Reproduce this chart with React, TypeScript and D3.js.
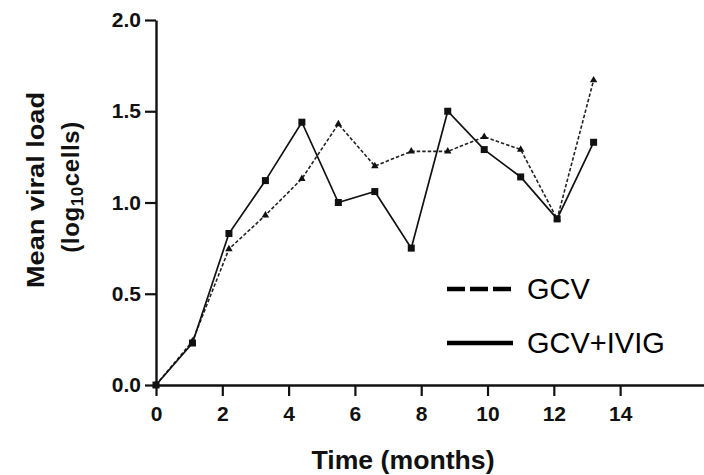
import React, { useEffect, useRef } from "react";
import * as d3 from "d3";

// Sampling times (months) and mean viral load (log10 cells) per treatment group
const times = [0, 1.1, 2.2, 3.3, 4.4, 5.5, 6.6, 7.7, 8.8, 9.9, 11, 12.1, 13.2];
const gcv = [0, 0.24, 0.745, 0.93, 1.13, 1.43, 1.2, 1.28, 1.28, 1.36, 1.29, 0.91, 1.67];
const gcvIvig = [0, 0.23, 0.83, 1.12, 1.44, 1.0, 1.06, 0.75, 1.5, 1.29, 1.14, 0.91, 1.33];

const xTicks = [0, 2, 4, 6, 8, 10, 12, 14];
const yTicks = [0, 0.5, 1.0, 1.5, 2.0];
const seriesNames = ["GCV", "GCV+IVIG"];

const W = 704;
const H = 475;
const FONT = "'Liberation Sans', Arial, Helvetica, sans-serif";

export default function App() {
  const ref = useRef<SVGSVGElement | null>(null);

  useEffect(() => {
    const svg = d3.select(ref.current);
    svg.selectAll("*").remove();

    const x = d3.scaleLinear().domain([0, 16.53]).range([156, 704]);
    const y = d3.scaleLinear().domain([0, 2]).range([385, 20]);

    const styleTicks = (g: d3.Selection<SVGGElement, unknown, null, undefined>) => {
      g.select(".domain").attr("stroke", "#111").attr("stroke-width", 2.4);
      g.selectAll(".tick line").attr("stroke", "#111").attr("stroke-width", 2.2);
      g.selectAll(".tick text")
        .attr("font-family", FONT)
        .attr("font-weight", "bold")
        .attr("font-size", 21)
        .attr("fill", "#111");
    };

    // Y axis
    const yAxis = d3
      .axisLeft(y)
      .tickValues(yTicks)
      .tickFormat(d3.format(".1f"))
      .tickSize(11)
      .tickPadding(4)
      .tickSizeOuter(0);
    const gy = svg.append("g").attr("transform", `translate(${x(0)},0)`).call(yAxis);
    styleTicks(gy as any);

    // X axis
    const xAxis = d3
      .axisBottom(x)
      .tickValues(xTicks)
      .tickFormat(d3.format("d"))
      .tickSize(11)
      .tickPadding(10)
      .tickSizeOuter(0);
    const gx = svg.append("g").attr("transform", `translate(0,${y(0)})`).call(xAxis);
    styleTicks(gx as any);

    // Axis titles
    svg
      .append("text")
      .attr("x", 403)
      .attr("y", 469)
      .attr("text-anchor", "middle")
      .attr("font-family", FONT)
      .attr("font-weight", "bold")
      .attr("font-size", 25)
      .attr("textLength", 183)
      .attr("lengthAdjust", "spacingAndGlyphs")
      .attr("fill", "#111")
      .text("Time (months)");

    svg
      .append("text")
      .attr("transform", `translate(44,190) rotate(-90)`)
      .attr("text-anchor", "middle")
      .attr("font-family", FONT)
      .attr("font-weight", "bold")
      .attr("font-size", 24)
      .attr("textLength", 196)
      .attr("lengthAdjust", "spacingAndGlyphs")
      .attr("fill", "#111")
      .text("Mean viral load");

    const yt = svg
      .append("text")
      .attr("transform", `translate(79,187) rotate(-90)`)
      .attr("text-anchor", "middle")
      .attr("font-family", FONT)
      .attr("font-weight", "bold")
      .attr("font-size", 24)
      .attr("letter-spacing", 0.6)
      .attr("fill", "#111");
    yt.append("tspan").text("(log");
    yt.append("tspan").attr("font-size", 17).attr("dy", 4).text("10");
    yt.append("tspan").attr("dy", -4).text("cells)");

    const line = d3
      .line<number>()
      .x((_, i) => x(times[i]))
      .y((d) => y(d));

    // GCV (dashed, triangles)
    svg
      .append("path")
      .datum(gcv)
      .attr("d", line)
      .attr("fill", "none")
      .attr("stroke", "#222")
      .attr("stroke-width", 1.6)
      .attr("stroke-dasharray", "3.5,2");
    svg
      .append("g")
      .selectAll("path")
      .data(gcv)
      .join("path")
      .attr("d", d3.symbol().type(d3.symbolTriangle).size(24)())
      .attr("transform", (d, i) => `translate(${x(times[i])},${y(d)})`)
      .attr("fill", "#111");

    // GCV+IVIG (solid, squares)
    svg
      .append("path")
      .datum(gcvIvig)
      .attr("d", line)
      .attr("fill", "none")
      .attr("stroke", "#111")
      .attr("stroke-width", 1.7);
    svg
      .append("g")
      .selectAll("rect")
      .data(gcvIvig)
      .join("rect")
      .attr("x", (_, i) => x(times[i]) - 3.5)
      .attr("y", (d) => y(d) - 3.5)
      .attr("width", 7)
      .attr("height", 7)
      .attr("fill", "#111");

    // Legend
    const leg = svg.append("g");
    const rows = [
      { name: seriesNames[0], y: 289, dash: "18,5" },
      { name: seriesNames[1], y: 343, dash: null as string | null },
    ];
    rows.forEach((r) => {
      const l = leg
        .append("line")
        .attr("x1", 447)
        .attr("x2", 513)
        .attr("y1", r.y)
        .attr("y2", r.y)
        .attr("stroke", "#000")
        .attr("stroke-width", 4.5);
      if (r.dash) l.attr("stroke-dasharray", r.dash);
      leg
        .append("text")
        .attr("x", 527)
        .attr("y", r.y + 10)
        .attr("font-family", FONT)
        .attr("font-size", 29)
        .attr("fill", "#000")
        .text(r.name);
    });
  }, []);

  return (
    <svg
      ref={ref}
      width={W}
      height={H}
      style={{ position: "fixed", left: 0, top: 0, background: "#fff" }}
    />
  );
}
